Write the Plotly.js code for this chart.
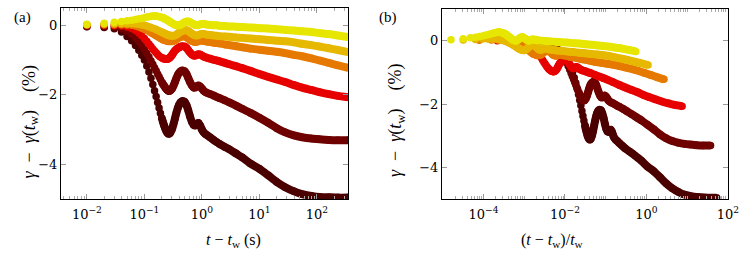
<!DOCTYPE html>
<html>
<head>
<meta charset="utf-8">
<script src="https://cdn.plot.ly/plotly-3.0.1.min.js"></script>
<style>
  html, body { margin: 0; padding: 0; background: #fff; }
  #chart { width: 747px; height: 253px; }
</style>
</head>
<body>
<div id="chart"></div>
<script>
// elapsed time t - t_w (s), shared by all series
const tElapsed = [0.01,0.02,0.03,0.04,0.05,0.06,0.07,0.08,0.09,0.10,
  0.11,0.12,0.13,0.14,0.15,0.16,0.17,0.18,0.19,0.20,
  0.21,0.22,0.23,0.24,0.25,0.26,0.27,0.28,0.30,0.32,
  0.34,0.36,0.38,0.40,0.43,0.46,0.50,0.54,0.58,0.62,
  0.67,0.72,0.77,0.82,0.87,0.93,1.0,1.07,1.15,1.25,
  1.4,1.6,1.8,2.0,2.5,3.0,4.0,5.0,7.0,10,
  14,20,28,40,55,80,110,160,230,347];

// gamma - gamma(t_w) (%) for each waiting time, darkest to lightest
const yDarkest = [-0.04,-0.06,-0.10,-0.19,-0.32,-0.44,-0.58,-0.72,-0.86,-1.00,
  -1.17,-1.34,-1.52,-1.70,-1.88,-2.05,-2.22,-2.38,-2.53,-2.66,
  -2.78,-2.88,-2.97,-3.04,-3.09,-3.12,-3.12,-3.10,-3.00,-2.85,
  -2.68,-2.52,-2.39,-2.29,-2.21,-2.18,-2.20,-2.30,-2.45,-2.62,
  -2.78,-2.87,-2.88,-2.83,-2.81,-2.88,-3.00,-3.08,-3.13,-3.17,
  -3.23,-3.30,-3.36,-3.41,-3.50,-3.57,-3.70,-3.80,-3.98,-4.13,
  -4.31,-4.51,-4.66,-4.78,-4.86,-4.91,-4.94,-4.95,-4.96,-4.96];
const yDarkRed = [-0.03,-0.04,-0.05,-0.10,-0.17,-0.26,-0.36,-0.47,-0.58,-0.69,
  -0.80,-0.91,-1.02,-1.12,-1.22,-1.31,-1.40,-1.48,-1.56,-1.63,
  -1.69,-1.74,-1.79,-1.83,-1.86,-1.88,-1.89,-1.88,-1.83,-1.74,
  -1.63,-1.52,-1.43,-1.37,-1.32,-1.30,-1.32,-1.40,-1.52,-1.63,
  -1.73,-1.79,-1.79,-1.75,-1.73,-1.76,-1.82,-1.88,-1.92,-1.95,
  -1.98,-2.02,-2.06,-2.09,-2.16,-2.22,-2.32,-2.40,-2.52,-2.66,
  -2.80,-2.96,-3.08,-3.17,-3.22,-3.26,-3.28,-3.30,-3.31,-3.31];
const yRed = [0.00,0.00,-0.01,-0.02,-0.05,-0.09,-0.15,-0.22,-0.30,-0.38,
  -0.46,-0.54,-0.61,-0.68,-0.74,-0.79,-0.84,-0.88,-0.91,-0.93,
  -0.95,-0.96,-0.97,-0.97,-0.97,-0.96,-0.94,-0.92,-0.86,-0.79,
  -0.73,-0.69,-0.66,-0.64,-0.61,-0.60,-0.61,-0.65,-0.72,-0.78,
  -0.84,-0.87,-0.87,-0.85,-0.83,-0.84,-0.87,-0.90,-0.92,-0.94,
  -0.96,-0.99,-1.01,-1.03,-1.08,-1.12,-1.18,-1.23,-1.31,-1.40,
  -1.48,-1.56,-1.63,-1.72,-1.79,-1.86,-1.92,-1.98,-2.03,-2.07];
const yOrange = [0.01,0.02,0.02,0.02,0.01,0.00,-0.02,-0.05,-0.08,-0.11,
  -0.14,-0.18,-0.21,-0.24,-0.27,-0.30,-0.32,-0.35,-0.37,-0.39,
  -0.41,-0.42,-0.43,-0.44,-0.45,-0.46,-0.46,-0.46,-0.46,-0.45,
  -0.43,-0.40,-0.37,-0.35,-0.33,-0.32,-0.32,-0.34,-0.38,-0.42,
  -0.45,-0.47,-0.48,-0.47,-0.45,-0.44,-0.44,-0.45,-0.46,-0.47,
  -0.48,-0.50,-0.51,-0.52,-0.55,-0.57,-0.60,-0.63,-0.67,-0.70,
  -0.73,-0.76,-0.80,-0.85,-0.89,-0.95,-1.01,-1.08,-1.15,-1.22];
const yGold = [0.02,0.04,0.05,0.05,0.05,0.05,0.04,0.03,0.01,0.00,
  -0.02,-0.04,-0.06,-0.08,-0.10,-0.12,-0.14,-0.16,-0.18,-0.20,
  -0.21,-0.23,-0.24,-0.26,-0.27,-0.28,-0.29,-0.29,-0.30,-0.30,
  -0.29,-0.27,-0.24,-0.21,-0.18,-0.16,-0.14,-0.14,-0.16,-0.20,
  -0.24,-0.27,-0.29,-0.29,-0.28,-0.26,-0.25,-0.25,-0.26,-0.27,
  -0.28,-0.29,-0.30,-0.31,-0.32,-0.33,-0.35,-0.36,-0.38,-0.40,
  -0.42,-0.44,-0.46,-0.49,-0.53,-0.57,-0.61,-0.66,-0.71,-0.77];
const yYellow = [0.03,0.06,0.09,0.11,0.13,0.15,0.17,0.19,0.20,0.22,
  0.24,0.25,0.26,0.27,0.27,0.27,0.26,0.25,0.24,0.23,
  0.22,0.20,0.18,0.17,0.15,0.13,0.12,0.10,0.07,0.04,
  0.02,0.01,0.00,0.00,0.02,0.05,0.09,0.11,0.11,0.09,
  0.06,0.03,0.01,0.00,0.01,0.03,0.04,0.04,0.03,0.02,
  0.01,0.00,0.00,-0.01,-0.02,-0.03,-0.04,-0.05,-0.06,-0.08,
  -0.09,-0.11,-0.13,-0.15,-0.17,-0.19,-0.22,-0.25,-0.29,-0.34];

// waiting times t_w (s) of the series, same order
const waitingTimes = [6.5, 9.2, 46, 128, 316, 630];

// panel (a) and (b) tick labels
const tickValsA = [0.01, 0.1, 1, 10, 100];
const tickTextA = ['10<sup>−2</sup>','10<sup>−1</sup>','10<sup>0</sup>','10<sup>1</sup>','10<sup>2</sup>'];
const tickValsB = [1e-4, 1e-2, 1, 100];
const tickTextB = ['10<sup>−4</sup>','10<sup>−2</sup>','10<sup>0</sup>','10<sup>2</sup>'];
const yTickVals = [0, -2, -4];
const yTickText = ['0', '−2', '−4'];

const seriesY = [yDarkest, yDarkRed, yRed, yOrange, yGold, yYellow];
const colors = ['#4b0000', '#6e0000', '#e60000', '#e67a00', '#e6b800', '#e6e600'];

const FONT_TICK = 'DejaVu Serif';
const FONT_TEXT = 'Liberation Serif';

const traces = [];
function addPanel(xa, ya, scaleByTw) {
  seriesY.forEach((ys, i) => {
    const tw = waitingTimes[i];
    const xs = tElapsed.map(v => scaleByTw ? v / tw : v);
    const iStart = tElapsed.findIndex(v => v >= 0.2);
    traces.push({
      x: xs.slice(iStart), y: ys.slice(iStart), mode: 'lines',
      line: {color: colors[i], width: 8, shape: 'spline', smoothing: 0.6},
      xaxis: xa, yaxis: ya, hoverinfo: 'skip'
    });
    traces.push({
      x: xs, y: ys, mode: 'markers',
      marker: {color: colors[i], size: 7.5, line: {width: 0}},
      xaxis: xa, yaxis: ya
    });
  });
}
addPanel('x', 'y', false);
addPanel('x2', 'y2', true);

const W = 747, H = 253;
const px = v => v / W, py = v => 1 - v / H;

const axisCommon = {
  showline: true, linecolor: '#000', linewidth: 1, mirror: 'allticks',
  ticks: 'inside', ticklen: 5, tickcolor: '#999', tickwidth: 1,
  showgrid: false, zeroline: false,
  tickfont: {family: FONT_TICK, size: 13, color: '#000'}
};
const minorLog = {ticks: 'inside', ticklen: 3, tickcolor: '#aaa', tickwidth: 1, dtick: 'D1', showgrid: false};

const NB = n => '\u00a0'.repeat(n);
const yTitle = '<i>γ</i>' + NB(2) + '−' + NB(2) + '<i>γ</i>(<i>t</i><sub>w</sub>)' + NB(4) + '(%)';

const layout = {
  width: W, height: H,
  margin: {l: 0, r: 0, t: 0, b: 0},
  paper_bgcolor: '#fff', plot_bgcolor: '#fff',
  showlegend: false,
  font: {family: FONT_TEXT, size: 14, color: '#000'},
  xaxis: Object.assign({}, axisCommon, {
    type: 'log', domain: [px(61), px(348)], range: [-2.45, 2.54],
    tickmode: 'array', tickvals: tickValsA, ticktext: tickTextA,
    minor: minorLog, anchor: 'y', ticklabelstandoff: 3
  }),
  yaxis: Object.assign({}, axisCommon, {
    domain: [py(199), py(8)], range: [-5, 0.5],
    tickmode: 'array', tickvals: yTickVals, ticktext: yTickText, anchor: 'x'
  }),
  xaxis2: Object.assign({}, axisCommon, {
    type: 'log', domain: [px(442), px(728)], range: [-5.02, 2.005],
    tickmode: 'array', tickvals: tickValsB, ticktext: tickTextB,
    minor: minorLog, anchor: 'y2', ticklabelstandoff: 3
  }),
  yaxis2: Object.assign({}, axisCommon, {
    domain: [py(199), py(9)], range: [-5, 1],
    tickmode: 'array', tickvals: yTickVals, ticktext: yTickText, anchor: 'x2'
  }),
  annotations: [
    {text: '(a)', x: px(12), y: py(7), xref: 'paper', yref: 'paper', showarrow: false, font: {family: FONT_TEXT, size: 15}},
    {text: '(b)', x: px(388), y: py(7), xref: 'paper', yref: 'paper', showarrow: false, font: {family: FONT_TEXT, size: 15}},
    {text: '<i>t</i> − <i>t</i><sub>w</sub> (s)', x: px(204), y: py(252), yanchor: 'bottom', xref: 'paper', yref: 'paper', showarrow: false, font: {family: FONT_TEXT, size: 16}},
    {text: '(<i>t</i> − <i>t</i><sub>w</sub>)/<i>t</i><sub>w</sub>', x: px(586), y: py(252), yanchor: 'bottom', xref: 'paper', yref: 'paper', showarrow: false, font: {family: FONT_TEXT, size: 16}},
    {text: yTitle, x: px(16), y: py(122), xref: 'paper', yref: 'paper', showarrow: false, textangle: -90, font: {family: FONT_TEXT, size: 18}},
    {text: yTitle, x: px(397), y: py(120), xref: 'paper', yref: 'paper', showarrow: false, textangle: -90, font: {family: FONT_TEXT, size: 18}}
  ]
};

Plotly.newPlot('chart', traces, layout, {staticPlot: true, displayModeBar: false});
</script>
</body>
</html>
